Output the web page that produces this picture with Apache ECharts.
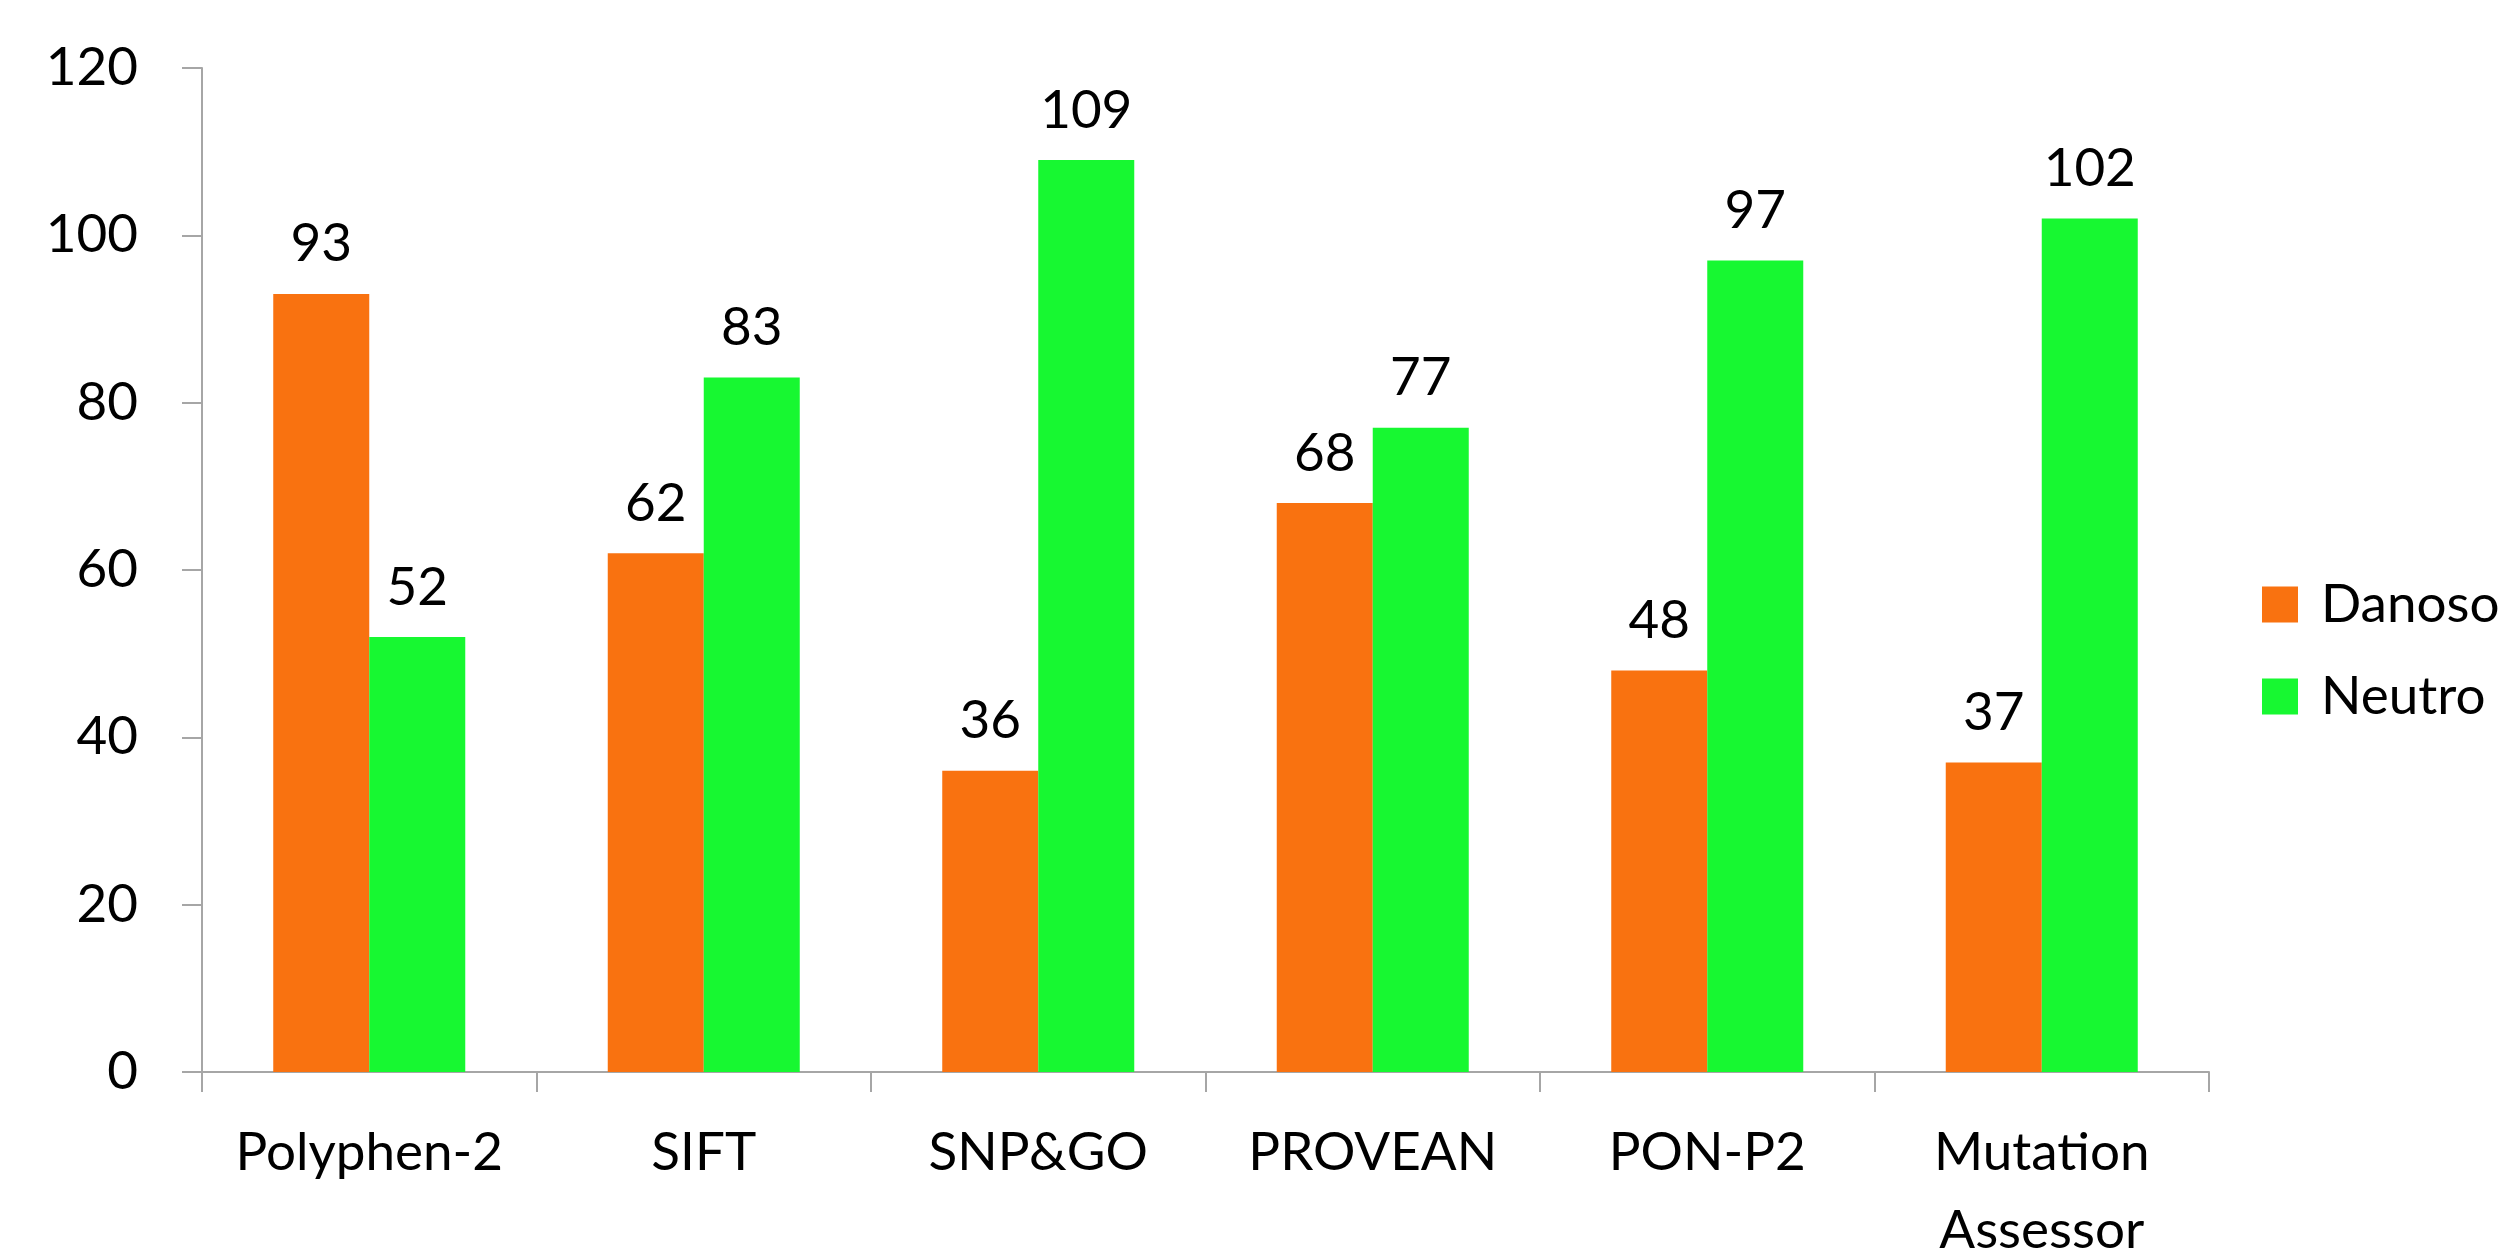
<!DOCTYPE html>
<html>
<head>
<meta charset="utf-8">
<script src="https://cdn.jsdelivr.net/npm/echarts@6/dist/echarts.min.js"></script>
<style>
html,body{margin:0;padding:0;background:#fff;overflow:hidden;}
#chart{width:2511px;height:1256px;}
</style>
</head>
<body>
<div id="chart"></div>
<script>
const categories = ['Polyphen-2', 'SIFT', 'SNP&GO', 'PROVEAN', 'PON-P2', 'Mutation\nAssessor'];
const seriesNames = ['Danoso', 'Neutro'];
const danoso = [93, 62, 36, 68, 48, 37];
const neutro = [52, 83, 109, 77, 97, 102];

const FONT = 'Lato';
const FS = 53;
const axisGray = '#A6A6A6';

const chart = echarts.init(document.getElementById('chart'), null, {renderer: 'canvas'});
const labelStyle = {
  show: true, position: 'top', distance: 23,
  color: '#000', fontFamily: FONT, fontSize: FS
};
chart.setOption({
  animation: false,
  backgroundColor: '#fff',
  grid: {left: 202, top: 68, right: 302, bottom: 184, containLabel: false, outerBoundsMode: 'none'},
  legend: {
    orient: 'vertical', left: 2262, top: 578, padding: 0,
    itemWidth: 36, itemHeight: 36, itemGap: 39, icon: 'rect',
    data: seriesNames,
    textStyle: {fontFamily: FONT, fontSize: FS, color: '#000', lineHeight: 52, padding: [0, 0, 0, 18]}
  },
  xAxis: {
    type: 'category', data: categories,
    axisLine: {show: true, lineStyle: {color: axisGray, width: 2}},
    axisTick: {show: true, length: 20, alignWithLabel: false, lineStyle: {color: axisGray, width: 2}},
    axisLabel: {interval: 0, margin: 42, color: '#000', fontFamily: FONT, fontSize: FS, lineHeight: 78}
  },
  yAxis: {
    type: 'value', min: 0, max: 120, interval: 20,
    splitLine: {show: false},
    axisLine: {show: true, lineStyle: {color: axisGray, width: 2}},
    axisTick: {show: true, length: 20, lineStyle: {color: axisGray, width: 2}},
    axisLabel: {margin: 64, color: '#000', fontFamily: FONT, fontSize: FS}
  },
  series: [
    {name: seriesNames[0], type: 'bar', data: danoso, barGap: '0%', barCategoryGap: '42.6%',
     itemStyle: {color: '#F97210'}, label: labelStyle},
    {name: seriesNames[1], type: 'bar', data: neutro, barGap: '0%', barCategoryGap: '42.6%',
     itemStyle: {color: '#17F831'}, label: labelStyle}
  ]
});
</script>
</body>
</html>
